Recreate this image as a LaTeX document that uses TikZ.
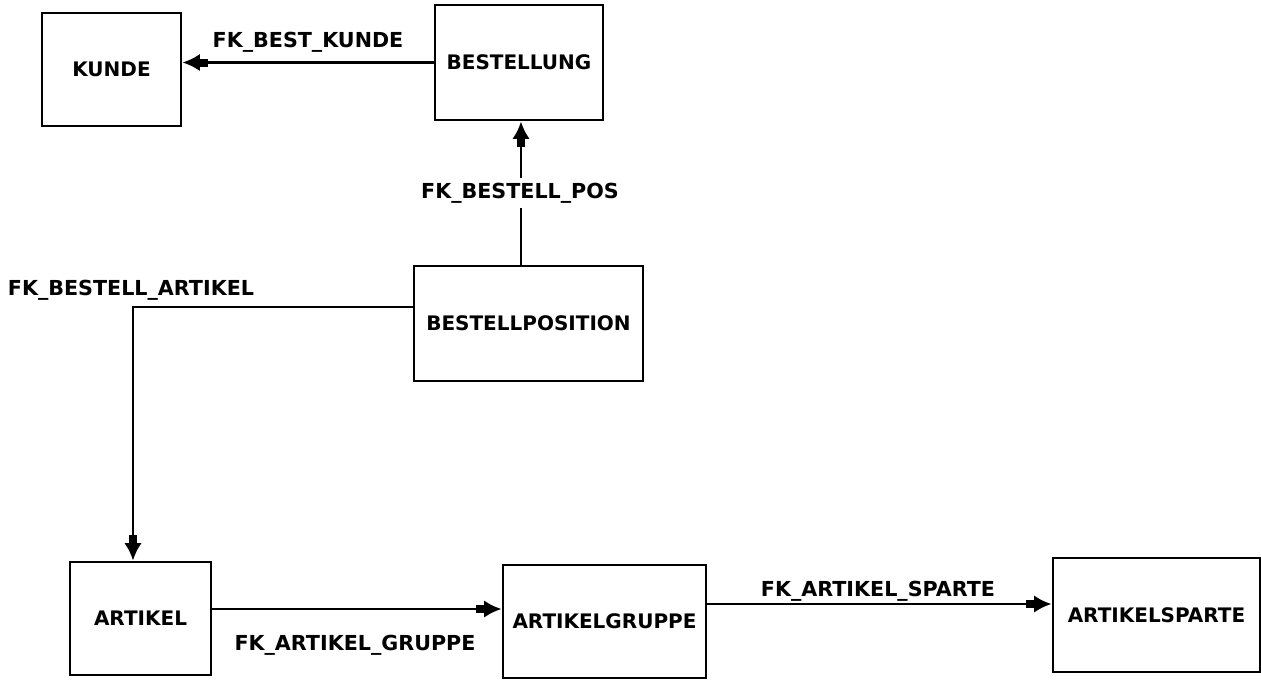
\documentclass[tikz,border=0pt]{standalone}
\usepackage{fontspec}
\setmainfont{DejaVu Sans}
\usetikzlibrary{arrows.meta}

\tikzset{every picture/.style={line width=2.2pt}}
\tikzset{
  table/.style={draw, rectangle, inner sep=0pt, font=\fontsize{15}{17}\selectfont\bfseries},
  fk/.style={-{Rectangle[length=6pt,width=6pt]Latex[length=13pt,width=13pt]}},
  fklabel/.style={font=\fontsize{15.5}{17}\selectfont\bfseries, inner sep=1pt}
}

\begin{document}
\begin{tikzpicture}[x=0.75pt,y=0.75pt,yscale=-1,xscale=1]
	\useasboundingbox (0,0) rectangle (1261,683);

	% Tables
	\node[table, minimum width=104.25pt, minimum height=84.75pt] (kunde) at (111.5,69.5) {KUNDE};
	\node[table, minimum width=126pt, minimum height=86.25pt] (bestellung) at (519,62.5) {BESTELLUNG};
	\node[table, minimum width=171.75pt, minimum height=86.25pt] (bestellpos) at (528.5,323.5) {BESTELLPOSITION};
	\node[table, minimum width=105.75pt, minimum height=84.75pt] (artikel) at (140.5,618.5) {ARTIKEL};
	\node[table, minimum width=152.25pt, minimum height=84.75pt] (artgruppe) at (604.5,621.5) {ARTIKELGRUPPE};
	\node[table, minimum width=155.25pt, minimum height=85.5pt] (artsparte) at (1156.5,615) {ARTIKELSPARTE};

	% Bend points
	\coordinate (posout) at (521,266);
	\coordinate (bend) at (133,307);
	\coordinate (grpline) at (0,609);
	\coordinate (spline) at (0,604);

	% Foreign keys
	\draw[fk] (bestellung.west) -- (kunde.east |- bestellung.west);
	\draw[fk] (posout) -- (posout |- bestellung.south);
	\draw[fk] (bestellpos.west |- bend) -- (bend) -- (bend |- artikel.north);
	\draw[fk] (artikel.east |- grpline) -- (artgruppe.west |- grpline);
	\draw[fk] (artgruppe.east |- spline) -- (artsparte.west |- spline);

	% Text Node
	\node[fklabel] (lkunde) at (308,42) {FK\_BEST\_KUNDE};
	% Text Node
	\node[fklabel, fill=white, inner sep=4pt] (lpos) at (520,193) {FK\_BESTELL\_POS};
	% Text Node
	\node[fklabel] (lartikel) at (131,290) {FK\_BESTELL\_ARTIKEL};
	% Text Node
	\node[fklabel] (lgruppe) at (355,645) {FK\_ARTIKEL\_GRUPPE};
	% Text Node
	\node[fklabel] (lsparte) at (878,591) {FK\_ARTIKEL\_SPARTE};
\end{tikzpicture}
\end{document}
